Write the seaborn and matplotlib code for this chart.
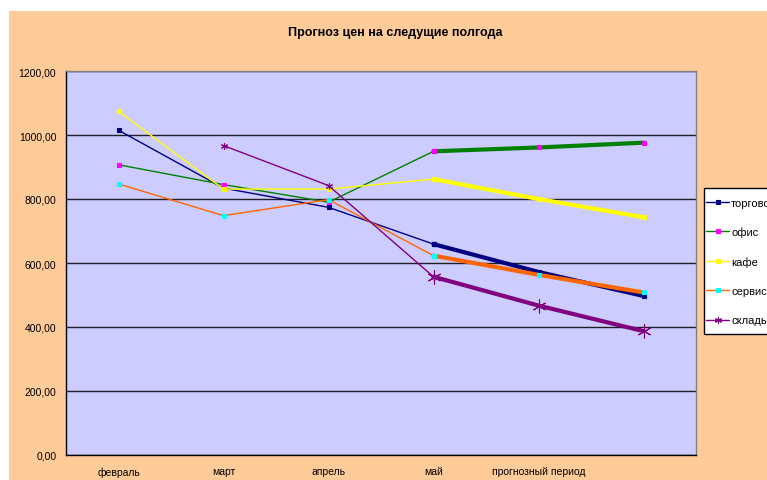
import matplotlib
matplotlib.use("Agg")
import numpy as np
import pandas as pd
import matplotlib.pyplot as plt
import seaborn as sns
from matplotlib.patches import Rectangle
from matplotlib.lines import Line2D

# categories on the x axis (last one has no label)
months = ["февраль", "март", "апрель", "май", "прогнозный период", ""]

# prices (None = no value)
torgovoe = [1015, 834, 774, 659, 572, 497]
ofis = [907, 845, 790, 949, 961, 976]
kafe = [1074, 831, 831, 862, 800, 743]
servis = [847, 748, 798, 623, 563, 508]
sklady = [None, 967, 842, 557, 467, 387]

series_names = ["торговое", "офис", "кафе", "сервис", "склады"]
series_values = [torgovoe, ofis, kafe, servis, sklady]
line_colors = ["#000080", "#008000", "#FFFF00", "#FF6600", "#800080"]
marker_colors = ["#000080", "#FF00FF", "#FFFF00", "#00FFFF", "#800080"]
markers = ["s", "s", "s", "s", (6, 2, 0)]

sns.set_style("white")
plt.rcParams["font.family"] = ["Liberation Sans", "DejaVu Sans"]
plt.rcParams["text.color"] = "black"
plt.rcParams["xtick.color"] = "black"
plt.rcParams["ytick.color"] = "black"

fig = plt.figure(figsize=(7.67, 4.81), dpi=100)
fig.patch.set_facecolor("white")
# orange chart area (white strip at the top and left)
fig.patches.append(Rectangle((9 / 767, 0), 1, 1 - 12 / 481, transform=fig.transFigure,
                             facecolor="#FFCC99", edgecolor="none", zorder=-10))

ax = fig.add_axes([66 / 767, 25 / 481, 630 / 767, 384 / 481])
ax.set_facecolor("#CCCCFF")

# long table for seaborn
rows = []
for name, vals in zip(series_names, series_values):
    for i, v in enumerate(vals):
        if v is not None:
            rows.append({"series": name, "pos": i, "value": v})
df = pd.DataFrame(rows)

for name, lc, mc, mk in zip(series_names, line_colors, marker_colors, markers):
    d = df[df["series"] == name]
    hist = d[d["pos"] <= 3]
    fc = d[d["pos"] >= 3]
    ms_small = 5 if mk != "s" else 2.2
    sns.lineplot(data=hist, x="pos", y="value", ax=ax, color=lc, lw=1,
                 marker=mk, markersize=ms_small, markerfacecolor=mc,
                 markeredgecolor=mc, mew=0.8, zorder=3)
    big = 10 if mk != "s" else 2.2
    sns.lineplot(data=fc, x="pos", y="value", ax=ax, color=lc, lw=3,
                 marker=mk, markersize=big, markerfacecolor=mc,
                 markeredgecolor=mc, mew=0.8, zorder=4)
    # first point of the forecast keeps a small marker
    ax.plot(fc["pos"].iloc[:1], fc["value"].iloc[:1], ls="none", marker=mk,
            ms=ms_small, mfc=mc, mec=mc, mew=0.8, zorder=5)

ax.set_xlim(-0.5, 5.5)
ax.set_ylim(0, 1200)
ax.set_yticks(np.arange(0, 1201, 200))
ax.set_yticklabels([f"{v:.2f}".replace(".", ",") for v in np.arange(0, 1201, 200)],
                   fontsize=7.5)
ax.set_xticks(range(len(months)))
ax.set_xticklabels(months, fontsize=7.5)
ax.set_xticks(np.arange(-0.5, 5.6, 1), minor=True)
ax.tick_params(axis="x", which="major", length=0, pad=8)
ax.tick_params(axis="x", which="minor", length=4, direction="out", color="black")
ax.tick_params(axis="y", length=4, direction="out", color="black", pad=3)
ax.grid(axis="y", color="black", lw=1, alpha=0.85)
ax.set_axisbelow(True)
ax.set_xlabel("")
ax.set_ylabel("")
for s in ["top", "right"]:
    ax.spines[s].set_color("#808080")
    ax.spines[s].set_linewidth(1)
for s in ["left", "bottom"]:
    ax.spines[s].set_color("black")
    ax.spines[s].set_linewidth(1)

fig.text(395 / 767, 1 - 33 / 481, "Прогноз цен на следущие полгода", ha="center",
         va="center", fontsize=9, fontweight="bold", color="black")

# legend frame drawn by hand, it runs past the right edge like in the original
fig.patches.append(Rectangle((704 / 767, 1 - 335 / 481), 0.2, 146 / 481,
                             transform=fig.transFigure, facecolor="white",
                             edgecolor="black", lw=1, zorder=5))
handles = [Line2D([0], [0], color=lc, lw=1, marker=mk, ms=5 if mk != "s" else 2.2,
                  mfc=mc, mec=mc, mew=0.8) for lc, mc, mk in zip(line_colors, marker_colors, markers)]
leg = fig.legend(handles, series_names, loc="center left",
                 bbox_to_anchor=(705 / 767, 1 - 262.5 / 481),
                 fontsize=8, frameon=False, labelspacing=1.73, handlelength=2.05,
                 handletextpad=0.2, borderpad=0.1, borderaxespad=0)
leg.set_zorder(6)

fig.savefig("out.png", dpi=100)
